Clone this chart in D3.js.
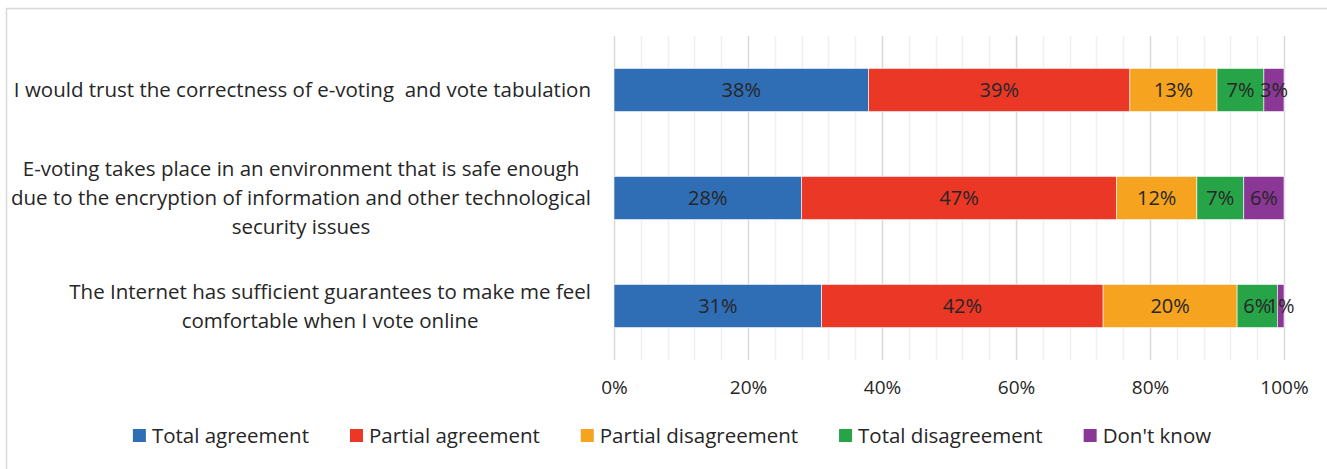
<!DOCTYPE html>
<html>
<head>
<meta charset="utf-8">
<script src="https://cdn.jsdelivr.net/npm/d3@7/dist/d3.min.js"></script>
<style>
  html, body { margin: 0; padding: 0; background: #fff; }
  svg text { font-family: "Open Sans", Lato, sans-serif; fill: #262626; white-space: pre; }
</style>
</head>
<body>
<svg id="chart" width="1327" height="469"></svg>
<script>
// Survey statements (one bar each, top to bottom)
const statements = [
  ["I would trust the correctness of e-voting  and vote tabulation"],
  ["E-voting takes place in an environment that is safe enough",
   "due to the encryption of information and other technological",
   "security issues"],
  ["The Internet has sufficient guarantees to make me feel",
   "comfortable when I vote online"]
];
const statementKeys = ["trust", "safe", "internet"];

// Response categories and their shares (%) per statement
const responses = ["Total agreement", "Partial agreement", "Partial disagreement", "Total disagreement", "Don't know"];
const totalAgreement      = [38, 28, 31];
const partialAgreement    = [39, 47, 42];
const partialDisagreement = [13, 12, 20];
const totalDisagreement   = [7, 7, 6];
const dontKnow            = [3, 6, 1];

const tickValues = [0, 20, 40, 60, 80, 100];
const colors = ["#2f6db5", "#ea3726", "#f6a31f", "#27a348", "#8a3795"];

const seriesValues = [totalAgreement, partialAgreement, partialDisagreement, totalDisagreement, dontKnow];
const rows = statementKeys.map((k, i) => {
  const r = { key: k };
  responses.forEach((name, j) => { r[name] = seriesValues[j][i]; });
  return r;
});

const svg = d3.select("#chart");

// chart frame
svg.append("line").attr("x1", 6.5).attr("x2", 6.5).attr("y1", 8).attr("y2", 469).attr("stroke", "#d9d9d9").attr("stroke-width", 1.5);
svg.append("line").attr("x1", 6).attr("x2", 1327).attr("y1", 8.5).attr("y2", 8.5).attr("stroke", "#d9d9d9").attr("stroke-width", 1.5);

const plot = { left: 614, right: 1284, top: 36, bottom: 360 };

const x = d3.scaleLinear().domain([0, 100]).range([plot.left, plot.right]);
const y = d3.scaleBand().domain(statementKeys).range([plot.top, plot.bottom]).paddingInner(0.6).paddingOuter(0.3);

// gridlines: minor every 4%, major every 20%
const minor = d3.range(0, 101, 4).filter(v => v % 20 !== 0);
svg.append("g").selectAll("line").data(minor).join("line")
  .attr("x1", d => Math.round(x(d)) + 0.5).attr("x2", d => Math.round(x(d)) + 0.5)
  .attr("y1", plot.top).attr("y2", plot.bottom)
  .attr("stroke", "#f0f0f0").attr("stroke-width", 1.5);
svg.append("g").selectAll("line").data(tickValues).join("line")
  .attr("x1", d => Math.round(x(d)) + 0.5).attr("x2", d => Math.round(x(d)) + 0.5)
  .attr("y1", plot.top).attr("y2", plot.bottom)
  .attr("stroke", "#d9d9d9").attr("stroke-width", 1.5);

// stacked bars
const stack = d3.stack().keys(responses)(rows);
const layers = svg.append("g").selectAll("g").data(stack).join("g")
  .attr("fill", (d, i) => colors[i]);
layers.selectAll("rect").data(d => d).join("rect")
  .attr("x", d => x(d[0]))
  .attr("width", d => x(d[1]) - x(d[0]))
  .attr("y", d => y(d.data.key))
  .attr("height", y.bandwidth())
  .attr("stroke", "#ffffff").attr("stroke-width", 0.6);

// value labels
layers.selectAll("text").data(d => d.map(v => ({ v, name: d.key }))).join("text")
  .attr("x", d => (x(d.v[0]) + x(d.v[1])) / 2)
  .attr("y", d => y(d.v.data.key) + y.bandwidth() / 2)
  .attr("dy", "0.36em")
  .attr("text-anchor", "middle")
  .style("font-size", "20px")
  .text(d => d.v.data[d.name] + "%");

// x axis labels
const xAxis = svg.append("g").attr("transform", `translate(0,${plot.bottom})`)
  .call(d3.axisBottom(x).tickValues(tickValues).tickFormat(d => d + "%").tickSize(0).tickPadding(21));
xAxis.select(".domain").remove();
xAxis.selectAll("text").style("font-size", "19px").attr("fill", "#262626");

// statement labels: centred lines, block right-aligned to the axis gutter
const labelRight = 591;
const lineH = 29;
statements.forEach((lines, i) => {
  const g = svg.append("g");
  const cy = y(statementKeys[i]) + y.bandwidth() / 2;
  const texts = lines.map((ln, k) => g.append("text")
    .style("font-size", "20.5px")
    .attr("text-anchor", "middle")
    .attr("y", cy + (k - (lines.length - 1) / 2) * lineH)
    .attr("dy", "0.36em")
    .text(ln));
  const maxW = d3.max(texts, t => t.node().getComputedTextLength());
  texts.forEach(t => t.attr("x", labelRight - maxW / 2));
});

// legend
const legend = svg.append("g");
const items = responses.map((name, i) => {
  const g = legend.append("g");
  g.append("rect").attr("width", 13).attr("height", 13).attr("y", -7).attr("fill", colors[i]);
  const t = g.append("text").attr("x", 19).attr("dy", "0.36em").style("font-size", "20.5px").text(name);
  return { g, w: 19 + t.node().getComputedTextLength() };
});
const gap = 41;
const totalW = d3.sum(items, d => d.w) + gap * (items.length - 1);
let cx = 672 - totalW / 2;
items.forEach(it => { it.g.attr("transform", `translate(${cx},436)`); cx += it.w + gap; });
</script>
</body>
</html>
